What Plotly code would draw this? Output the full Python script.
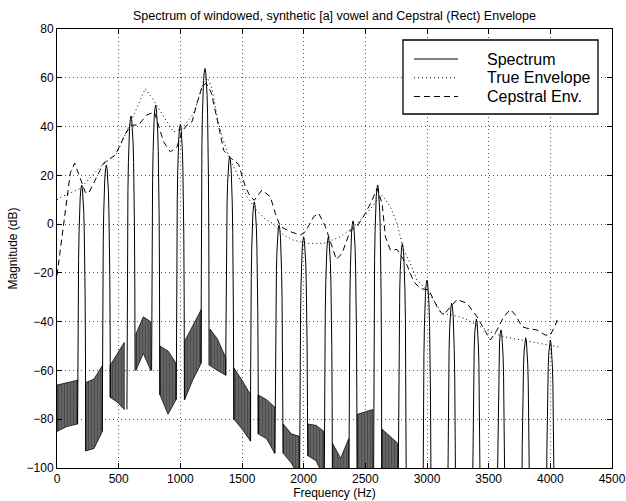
import plotly.graph_objects as go

# ---------------- data ----------------
harmonic_hz = [200, 400, 600, 800, 1000, 1200, 1400, 1600, 1800, 2000,
               2200, 2400, 2600, 2800, 3000, 3200, 3400, 3600, 3800, 4000]
harmonic_db = [16, 24.2, 44.3, 48.8, 40.9, 63.8, 27.6, 9.1, -0.4, -5.2,
               -5.2, 1.3, 16, -8, -23, -32.5, -39, -43.4, -46.6, -47.5]

# main-lobe profile around each harmonic (Hz offset, dB below the peak)
lobe_offset_hz = [0, 6, 12, 17, 21, 25, 28, 31, 33]
lobe_drop_db = [0, 1.5, 5, 11, 19, 31, 45, 70]

# side-lobe bands between harmonics (anchor Hz, upper dB, lower dB)
band_hz = [[0, 80, 165], [232, 300, 368], [430, 490, 545], [640, 700, 760],
           [835, 900, 965], [1035, 1100, 1170], [1240, 1300, 1370],
           [1435, 1500, 1570], [1630, 1700, 1765], [1835, 1900, 1965],
           [2035, 2100, 2165], [2235, 2300, 2365], [2435, 2500, 2560],
           [2635, 2700, 2765]]
band_top_db = [[-66, -65, -64], [-65, -63.5, -58], [-58, -53, -48.5],
               [-45, -38, -40], [-50, -52, -57], [-48, -42, -35],
               [-43, -47, -55], [-59, -64, -70], [-70, -72, -75],
               [-82, -86, -87], [-82, -82.5, -85], [-90, -96, -88],
               [-78, -77, -76], [-84, -87, -90]]
band_bottom_db = [[-85, -83, -82], [-93, -92, -85], [-71, -73, -76],
                  [-60, -53, -60], [-70, -78, -72], [-72, -64, -57],
                  [-58, -60, -62], [-80, -84, -89], [-86, -88, -94],
                  [-94, -98, -104], [-95, -97, -104], [-104, -104, -104],
                  [-100, -104, -104], [-104, -104, -104]]
floor_db = -120

true_env_hz = [0, 40, 189, 351, 486, 568, 622, 716, 784, 865, 946, 1014, 1108,
               1189, 1220, 1257, 1298, 1338, 1406, 1473, 1541, 1622, 1689,
               1757, 1838, 1919, 2027, 2162, 2298, 2406, 2514, 2595, 2636,
               2703, 2757, 2811, 2865, 2919, 3000, 3054, 3122, 3203, 3298,
               3406, 3487, 3541, 3622, 3757, 3865, 3973, 4065]
true_env_db = [10, 11.2, 14.6, 23.5, 29, 38.5, 45.4, 55.6, 50.8, 44, 37.8,
               39.2, 45.4, 58.3, 60, 55.6, 44, 35.9, 26.2, 19.4, 11.2, 5.5,
               2, 0, -4.5, -6.6, -7.9, -7.9, -5.2, -1, 4.4, 9.8, 11.9, 7.1,
               0.3, -10.7, -16.1, -23, -27, -31.1, -36.6, -37.3, -38.6,
               -41.4, -43.4, -44.8, -46.2, -47.5, -48.6, -49.6, -50.3]

cep_env_hz = [0, 40, 68, 108, 143, 189, 230, 256, 310, 378, 473, 554, 600,
              660, 727, 789, 865, 919, 973, 1014, 1054, 1095, 1135, 1176,
              1210, 1250, 1311, 1351, 1406, 1473, 1527, 1568, 1600, 1662,
              1730, 1770, 1811, 1892, 1973, 2014, 2081, 2122, 2176, 2230,
              2265, 2311, 2379, 2433, 2500, 2555, 2595, 2636, 2663, 2703,
              2757, 2838, 2892, 2946, 3014, 3095, 3135, 3190, 3244, 3325,
              3406, 3474, 3514, 3568, 3622, 3676, 3717, 3771, 3811, 3892,
              3960, 4000, 4041, 4055]
cep_env_db = [-21, -5, 6, 21, 25, 18.7, 13, 12.6, 18, 25, 28.3, 37, 40.6,
              40.6, 44.7, 46, 33.7, 29.6, 31.7, 38, 40.6, 42, 49.5, 56.3,
              57.8, 54, 40, 30.3, 27.2, 24.5, 15.3, 11.2, 9.8, 14, 11.2, 4.4,
              -1, -3.1, -4.5, -3.1, 3, 4.4, -1, -9.3, -14.5, -12, -2.5, -1,
              4.4, 9.8, 14.6, 8.5, -5.2, -10.7, -10.4, -16.8, -23.6, -26.4,
              -27, -35.2, -37.3, -33.9, -30.9, -32.5, -38, -44.1, -47.5,
              -43.4, -38, -35, -37.3, -42.1, -42.7, -43.4, -45.5, -45.5,
              -41.4, -39.3]

series_names = ["Spectrum", "True Envelope", "Cepstral Env."]
title_text = "Spectrum of windowed, synthetic [a] vowel and Cepstral (Rect) Envelope"
x_ticks = [0, 500, 1000, 1500, 2000, 2500, 3000, 3500, 4000, 4500]
y_ticks = [-100, -80, -60, -40, -20, 0, 20, 40, 60, 80]

# ---------------- styles ----------------
line_dashes = ["solid", "1px,3px", "6px,4px"]

# ---------------- build traces ----------------
n_bands = len(band_hz)
spec_x, spec_y = [], []
for i, (f, p) in enumerate(zip(harmonic_hz, harmonic_db)):
    left_foot = band_bottom_db[i][-1] if i < n_bands else floor_db
    right_foot = band_bottom_db[i + 1][0] if i + 1 < n_bands else floor_db
    foot_off = lobe_offset_hz[-1]
    spec_x.append(f - foot_off)
    spec_y.append(left_foot)
    for o, d in reversed(list(zip(lobe_offset_hz[1:-1], lobe_drop_db[1:]))):
        spec_x.append(f - o)
        spec_y.append(p - d)
    spec_x.append(f)
    spec_y.append(p)
    for o, d in zip(lobe_offset_hz[1:-1], lobe_drop_db[1:]):
        spec_x.append(f + o)
        spec_y.append(p - d)
    spec_x.append(f + foot_off)
    spec_y.append(right_foot)
    spec_x.append(None)
    spec_y.append(None)

band_x, band_y = [], []
for hz, top, bot in zip(band_hz, band_top_db, band_bottom_db):
    band_x += hz + hz[::-1] + [hz[0], None]
    band_y += top + bot[::-1] + [top[0], None]

fig = go.Figure()
fig.add_trace(go.Scatter(
    x=band_x, y=band_y, mode="lines", fill="toself",
    line=dict(color="rgba(0,0,0,0.9)", width=0.8),
    fillcolor="rgba(0,0,0,0)",
    fillpattern=dict(shape="|", size=3, solidity=0.8,
                     fgcolor="black", bgcolor="#9a9a9a"),
    showlegend=False, hoverinfo="skip"))
fig.add_trace(go.Scatter(
    x=spec_x, y=spec_y, mode="lines", name=series_names[0],
    line=dict(color="black", width=1, dash=line_dashes[0]),
    connectgaps=False, showlegend=False))
fig.add_trace(go.Scatter(
    x=true_env_hz, y=true_env_db, mode="lines", name=series_names[1],
    line=dict(color="black", width=1, dash=line_dashes[1]), showlegend=False))
fig.add_trace(go.Scatter(
    x=cep_env_hz, y=cep_env_db, mode="lines", name=series_names[2],
    line=dict(color="black", width=1, dash=line_dashes[2]), showlegend=False))

axis_common = dict(
    showline=True, linecolor="black", linewidth=1, mirror="allticks",
    ticks="inside", ticklen=5, tickcolor="black", tickwidth=1,
    showgrid=True, gridcolor="#555555", gridwidth=1, griddash="1px,3px",
    zeroline=False, tickfont=dict(size=12, color="black"), automargin=False,
)

fig.update_xaxes(range=[0, 4500], tickvals=x_ticks,
                 title=dict(text="Frequency (Hz)", font=dict(size=12), standoff=2),
                 **axis_common)
fig.update_yaxes(range=[-100, 80], tickvals=y_ticks,
                 title=dict(text="Magnitude (dB)", font=dict(size=12), standoff=6),
                 **axis_common)

# ---------------- legend box (drawn in paper coordinates) ----------------
leg_x0, leg_x1, leg_y0, leg_y1 = 0.6234, 0.9748, 0.8064, 0.975
leg_line_x0, leg_line_x1, leg_text_x = 0.6432, 0.7225, 0.773
leg_rows = [0.9316, 0.8889, 0.8462]

shapes = [dict(type="rect", xref="paper", yref="paper",
               x0=leg_x0, x1=leg_x1, y0=leg_y0, y1=leg_y1,
               line=dict(color="black", width=1.3), fillcolor="white",
               layer="above")]
annotations = []
for name, dash, ry in zip(series_names, line_dashes, leg_rows):
    shapes.append(dict(type="line", xref="paper", yref="paper",
                       x0=leg_line_x0, x1=leg_line_x1, y0=ry, y1=ry,
                       line=dict(color="black", width=1, dash=dash),
                       layer="above"))
    annotations.append(dict(text=name, xref="paper", yref="paper",
                            x=leg_text_x, y=ry, xanchor="left",
                            yanchor="middle", showarrow=False, borderpad=0,
                            font=dict(size=16, color="black")))

fig.update_layout(
    width=626, height=501,
    margin=dict(l=57, r=14, t=29, b=33),
    paper_bgcolor="white", plot_bgcolor="white",
    font=dict(family="Liberation Sans, Arial, Helvetica, sans-serif",
              size=12, color="black"),
    title=dict(text=title_text, x=0.5, xref="paper", xanchor="center",
               y=1 - 16 / 501, yref="container", yanchor="middle",
               font=dict(size=12.5)),
    shapes=shapes, annotations=annotations,
    showlegend=False,
)

fig.write_html("out.html")
